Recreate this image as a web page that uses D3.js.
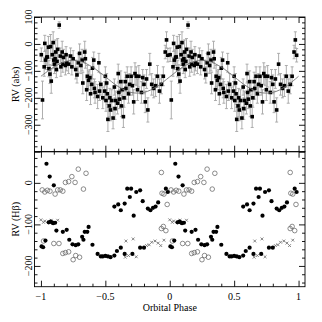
<!DOCTYPE html>
<html>
<head>
<meta charset="utf-8">
<script src="https://cdn.jsdelivr.net/npm/d3@7"></script>
<style>
  body { margin: 0; background: #fff; }
  text { font-family: "Liberation Serif", serif; fill: #000; }
</style>
</head>
<body>
<svg width="322" height="322"></svg>
<script>
// ---- data (phase folded, 0..1; each point is drawn at phase-1 and phase) ----
// top panel: absorption-line RV with errors
var absPhase = [
  0.003,0.012,0.025,0.030,0.035,0.045,0.050,0.058,0.062,0.070,
  0.075,0.080,0.088,0.095,0.100,0.105,0.110,0.115,0.120,0.125,
  0.130,0.142,0.150,0.155,0.165,0.170,0.175,0.190,0.195,0.200,
  0.215,0.230,0.240,0.250,0.270,0.280,0.290,0.300,0.310,0.320,
  0.325,0.340,0.345,0.355,0.360,0.370,0.380,0.385,0.395,0.400,
  0.410,0.415,0.420,0.440,0.450,0.455,0.465,0.480,0.495,0.500,
  0.505,0.510,0.515,0.520,0.530,0.535,0.540,0.550,0.560,0.570,
  0.575,0.580,0.595,0.600,0.605,0.610,0.620,0.625,0.630,0.640,
  0.645,0.655,0.660,0.670,0.680,0.690,0.700,0.710,0.720,0.730,
  0.740,0.750,0.760,0.780,0.790,0.800,0.810,0.820,0.830,0.845,
  0.860,0.875,0.890,0.905,0.920,0.935,0.950,0.965,0.975,0.985];
var absRV = [
  -40,-208,-85,2,-60,-50,-48,-12,-92,-112,
  -10,-138,-40,5,-60,-75,-55,-30,-95,-65,
  -20,70,-45,-85,-30,-75,-50,-80,-40,-70,
  -75,-45,-85,-55,-95,-115,-70,-35,-80,-60,
  -145,-30,-55,-170,-120,-135,-125,-185,-150,-90,
  -60,-165,-180,-195,-70,-175,-150,-200,-175,-120,
  -210,-145,-185,-280,-230,-200,-245,-210,-275,-160,
  -240,-210,-220,-110,-180,-205,-140,-230,-170,-270,
  -200,-140,-165,-120,-185,-150,-120,-155,-215,-110,
  -120,-170,-120,-180,-125,-150,-215,-130,-245,-75,
  -150,-165,-155,-120,-175,-150,-120,-30,15,-42];
var absErr = [
  25,70,35,30,35,30,40,40,30,35,
  45,45,40,40,30,35,30,45,30,35,
  40,12,30,35,40,30,30,35,30,30,
  35,30,30,30,35,30,35,35,30,40,
  40,40,35,40,40,35,30,40,35,40,
  30,35,40,45,35,35,40,40,35,35,
  40,35,40,45,40,35,40,40,40,30,
  40,35,40,35,40,35,40,40,35,40,
  35,35,40,35,35,40,35,35,45,40,
  35,40,40,40,30,35,40,35,45,40,
  40,35,40,40,45,35,35,25,30,25];

// fitted curve, phases -1..1
var fitPhase = [-1,-0.9,-0.8,-0.7,-0.6,-0.5,-0.4,-0.3,-0.2,-0.1,0,0.1,0.2,0.3,0.4,0.5,0.6,0.7,0.8,0.9,1];
var fitRV = [-120,-86,-64,-64,-86,-122,-158,-180,-180,-158,-122,-86,-64,-64,-86,-122,-158,-180,-180,-158,-120];

// bottom panel: H-beta RV, three kinds of symbols
var fillPhase = [0.005,0.017,0.035,0.043,0.060,0.068,0.075,0.085,0.095,0.100,0.110,0.120,0.170,0.200,0.220,0.245,
  0.270,0.290,0.320,0.330,0.340,0.360,0.370,0.400,0.440,0.465,0.480,0.500,0.520,0.540,0.570,0.570,0.590,0.600,
  0.620,0.620,0.650,0.650,0.670,0.690,0.700,0.710,0.720,0.740,0.770,0.770,0.790,0.800,0.830,0.850,0.870,0.890,
  0.910,0.970,0.985];
var fillRV = [-153,-155,-139,46,-95,15,-93,-95,-97,-6,-96,-115,-118,-113,-137,-148,
  -150,-148,-130,-137,-118,-118,-106,-149,-171,-177,-177,-176,-177,-179,-175,-57,-164,-52,
  -156,-66,-171,-50,-14,-34,-14,-171,-79,-22,-18,-156,-44,-156,-62,-66,-60,-57,
  -47,-14,-22];
var openPhase = [0.935,0.940,0.955,0.980,0.010,0.030,0.050,0.070,0.110,0.130,0.150,0.170,0.190,0.215,0.240,0.265,
  0.290,0.330,0.350,0.935,0.950,0.970,0.020,0.100,0.140,0.170,0.190,0.215,0.250,0.270,0.300];
var openRV = [25,-25,-27,-52,-17,-22,-18,-20,-27,-17,-17,-20,1,3,15,1,
  33,-15,23,-110,-105,-115,-140,-146,-146,-170,-168,-166,-185,-175,-179];
var crossPhase = [0.000,0.020,0.030,0.080,0.130,0.655,0.660,0.680,0.716,0.740,0.820,0.840,0.860,0.886,0.910,0.930,0.955];
var crossRV = [-89,-95,-92,-90,-90,-179,-140,-175,-135,-178,-151,-149,-143,-140,-145,-151,-138];

// x axis ticks
var phaseMajor = [-1,-0.5,0,0.5,1];
var phaseLabels = ["\u22121","\u22120.5","0","0.5","1"];

var svg = d3.select("svg");
var left = 34.5, right = 305, top1 = 17, mid = 151.7, bot = 286.7;

var x = d3.scaleLinear().domain([-1.05, 1.05]).range([left, right]);
var yTop = d3.scaleLinear().domain([-400, 100]).range([mid, top1]);
var yBot = d3.scaleLinear().domain([-250, 75]).range([bot, mid]);

function both(ph, v) {
  var out = [];
  ph.forEach(function(p, i) {
    out.push({p: p - 1, v: v[i], i: i});
    out.push({p: p, v: v[i], i: i});
  });
  return out;
}

// ---- top panel marks ----
var gTop = svg.append("g");
var absPts = both(absPhase, absRV);
var errCol = "#a5a5a5";

gTop.selectAll("line.err")
  .data(absPts).enter().append("line")
  .attr("class", "err")
  .attr("x1", d => x(d.p)).attr("x2", d => x(d.p))
  .attr("y1", d => yTop(d.v + absErr[d.i])).attr("y2", d => yTop(d.v - absErr[d.i]))
  .attr("stroke", errCol).attr("stroke-width", 0.9);
[1, -1].forEach(function(s) {
  gTop.selectAll("line.cap" + (s > 0 ? "a" : "b"))
    .data(absPts).enter().append("line")
    .attr("x1", d => x(d.p) - 1.5).attr("x2", d => x(d.p) + 1.5)
    .attr("y1", d => yTop(d.v + s * absErr[d.i])).attr("y2", d => yTop(d.v + s * absErr[d.i]))
    .attr("stroke", errCol).attr("stroke-width", 0.9);
});

gTop.selectAll("rect.pt")
  .data(absPts).enter().append("rect")
  .attr("x", d => x(d.p) - 1.8).attr("y", d => yTop(d.v) - 1.8)
  .attr("width", 3.6).attr("height", 3.6)
  .attr("fill", "#000");

var fitLine = d3.line()
  .x(d => x(d[0])).y(d => yTop(d[1]))
  .curve(d3.curveCatmullRom);
gTop.append("path")
  .datum(fitPhase.map((p, i) => [p, fitRV[i]]))
  .attr("d", fitLine)
  .attr("fill", "none").attr("stroke", "#707070").attr("stroke-width", 0.9);

// ---- bottom panel marks ----
var gBot = svg.append("g");
gBot.selectAll("circle.open")
  .data(both(openPhase, openRV)).enter().append("circle")
  .attr("cx", d => x(d.p)).attr("cy", d => yBot(d.v)).attr("r", 2.3)
  .attr("fill", "none").attr("stroke", "#666").attr("stroke-width", 0.75);
gBot.selectAll("path.cross")
  .data(both(crossPhase, crossRV)).enter().append("path")
  .attr("d", function(d) {
    var cx = x(d.p), cy = yBot(d.v), r = 1.4;
    return "M" + (cx - r) + "," + (cy - r) + "L" + (cx + r) + "," + (cy + r) +
           "M" + (cx - r) + "," + (cy + r) + "L" + (cx + r) + "," + (cy - r);
  })
  .attr("stroke", "#777").attr("stroke-width", 0.9);
gBot.selectAll("circle.fill")
  .data(both(fillPhase, fillRV)).enter().append("circle")
  .attr("cx", d => x(d.p)).attr("cy", d => yBot(d.v)).attr("r", 2.1)
  .attr("fill", "#000");

// ---- axes: ticks drawn inward on all four sides ----
var phaseMinor = d3.range(-10, 11).map(d => d / 10).filter(d => phaseMajor.indexOf(d) < 0);

function frame(y, majorY, minorY) {
  var g = svg.append("g");
  var y0 = y.range()[0], y1 = y.range()[1];
  g.append("rect").attr("x", left).attr("y", y1).attr("width", right - left).attr("height", y0 - y1)
    .attr("fill", "none").attr("stroke", "#000").attr("stroke-width", 0.9);

  [[d3.axisBottom(x), y0], [d3.axisTop(x), y1]].forEach(function(a) {
    g.append("g").attr("transform", "translate(0," + a[1] + ")")
      .call(a[0].tickValues(phaseMajor).tickSize(-6).tickFormat(""));
    g.append("g").attr("transform", "translate(0," + a[1] + ")")
      .call(a[0].tickValues(phaseMinor).tickSize(-3).tickFormat(""));
  });
  [[d3.axisLeft(y), left], [d3.axisRight(y), right]].forEach(function(a) {
    g.append("g").attr("transform", "translate(" + a[1] + ",0)")
      .call(a[0].tickValues(majorY).tickSize(-6).tickFormat(""));
    g.append("g").attr("transform", "translate(" + a[1] + ",0)")
      .call(a[0].tickValues(minorY).tickSize(-3).tickFormat(""));
  });
  g.selectAll(".domain").remove();
  g.selectAll(".tick line").attr("stroke", "#000").attr("stroke-width", 0.9);

  // rotated y labels, PGPLOT style
  g.selectAll("text.ylab")
    .data(majorY.filter(v => v > y.domain()[0] && v <= y.domain()[1])).enter().append("text")
    .attr("transform", v => "translate(" + (left - 2.5) + "," + y(v) + ") rotate(-90)")
    .attr("text-anchor", "middle")
    .style("font-size", "10px")
    .text(v => v < 0 ? "\u2212" + (-v) : String(v));
  return g;
}

var topMajor = [-400, -300, -200, -100, 0, 100];
var topMinor = d3.range(-400, 101, 20).filter(v => topMajor.indexOf(v) < 0);
frame(yTop, topMajor, topMinor);

var botMajor = [-200, -100, 0];
var botMinor = d3.range(-240, 75, 20).filter(v => botMajor.indexOf(v) < 0);
frame(yBot, botMajor, botMinor);

// x tick labels
svg.append("g").selectAll("text")
  .data(phaseMajor).enter().append("text")
  .attr("x", d => x(d)).attr("y", 299.5)
  .attr("text-anchor", "middle")
  .style("font-size", "10px")
  .text((d, i) => phaseLabels[i]);

// axis titles
svg.append("text")
  .attr("x", (left + right) / 2).attr("y", 310.5)
  .attr("text-anchor", "middle").style("font-size", "10px")
  .text("Orbital Phase");
svg.append("text")
  .attr("transform", "translate(18.5," + (top1 + mid) / 2 + ") rotate(-90)")
  .attr("text-anchor", "middle").style("font-size", "10px")
  .text("RV (abs)");
svg.append("text")
  .attr("transform", "translate(18.5," + (mid + bot) / 2 + ") rotate(-90)")
  .attr("text-anchor", "middle").style("font-size", "10px")
  .text("RV (H\u03B2)");
</script>
</body>
</html>
